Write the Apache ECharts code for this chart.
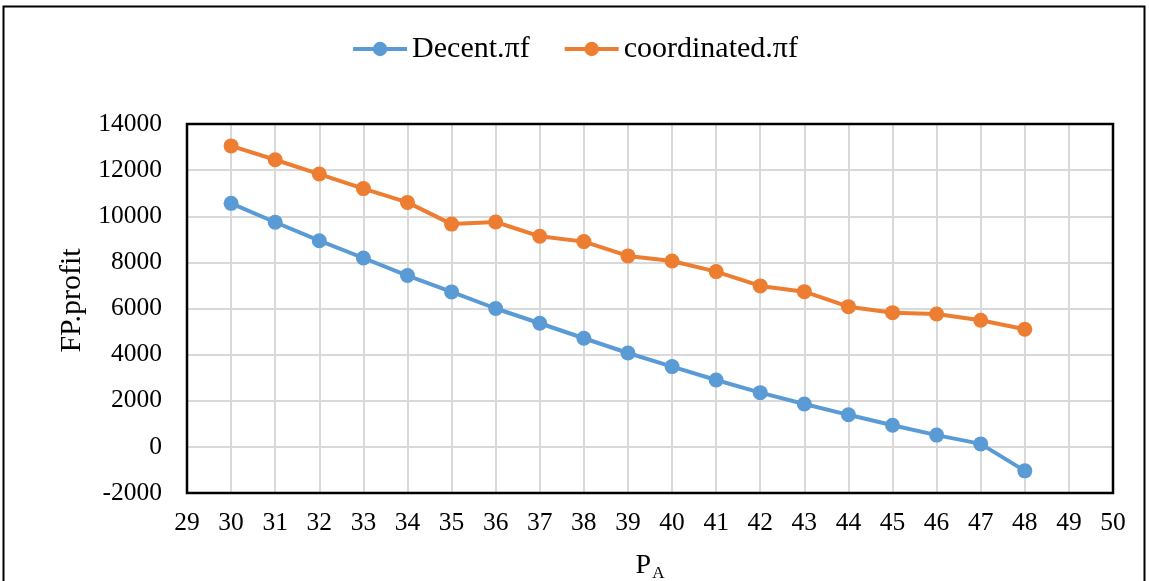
<!DOCTYPE html>
<html><head><meta charset="utf-8">
<script src="https://cdn.jsdelivr.net/npm/echarts@6/dist/echarts.min.js"></script>
<style>html,body{margin:0;padding:0;background:#fff}#c{width:1149px;height:581px}</style>
</head><body><div id="c"></div>
<script>
const xValues = [30,31,32,33,34,35,36,37,38,39,40,41,42,43,44,45,46,47,48];
const decent = [10560,9740,8940,8190,7430,6720,6000,5360,4710,4070,3480,2900,2350,1860,1390,940,510,130,-1040];
const coordinated = [13050,12450,11830,11200,10600,9660,9750,9130,8900,8280,8060,7600,6980,6730,6080,5820,5760,5490,5100];
const seriesNames = ['Decent.πf','coordinated.πf'];
const colors = ['#5B9BD5','#ED7D31'];
const font = 'Liberation Serif';

const G = {left:187, right:36, top:124, bottom:88};
const W = 1149, H = 581;

const chart = echarts.init(document.getElementById('c'));
function pairs(ys){ return xValues.map((x,i)=>[x, ys[i]]); }
chart.setOption({
  backgroundColor:'#fff',
  animation:false,
  graphic:[
    {type:'rect', shape:{x:3.5,y:6.5,width:1141,height:620}, style:{fill:'none',stroke:'#000',lineWidth:2}, silent:true, z:100},
    {type:'rect', shape:{x:G.left,y:G.top,width:W-G.left-G.right,height:H-G.top-G.bottom}, style:{fill:'none',stroke:'#000',lineWidth:2.5}, silent:true, z:1}
  ],
  legend:{top:29, left:'center', itemWidth:54, itemHeight:18, itemGap:33,
    lineStyle:{width:4},
    textStyle:{fontFamily:font, fontSize:30, color:'#000'}, data:seriesNames},
  grid:{left:G.left, right:G.right, top:G.top, bottom:G.bottom, outerBoundsMode:'none', containLabel:false},
  xAxis:{type:'value', min:29, max:50, interval:1,
    axisLine:{show:false}, axisTick:{show:false},
    splitLine:{show:true, lineStyle:{color:'#d9d9d9', width:2}},
    axisLabel:{fontFamily:font, fontSize:25.5, color:'#000', margin:17},
    name:'{p|P}{s|A}', nameLocation:'middle', nameGap:56,
    nameTextStyle:{rich:{p:{fontFamily:font, fontSize:28, color:'#000'}, s:{fontFamily:font, fontSize:17, color:'#000', padding:[16,0,0,1]}}}},
  yAxis:{type:'value', min:-2000, max:14000, interval:2000,
    axisLine:{show:false}, axisTick:{show:false},
    splitLine:{show:true, lineStyle:{color:'#d9d9d9', width:2}},
    axisLabel:{fontFamily:font, fontSize:25.5, color:'#000', margin:25, formatter:v=>String(v)},
    name:'FP.profit', nameLocation:'middle', nameGap:100,
    nameTextStyle:{fontFamily:font, fontSize:30, color:'#000', padding:[0,0,0,16]}},
  series:[
    {name:seriesNames[0], type:'line', data:pairs(decent), color:colors[0], symbol:'circle', symbolSize:15,
      lineStyle:{width:4}, itemStyle:{color:colors[0]}},
    {name:seriesNames[1], type:'line', data:pairs(coordinated), color:colors[1], symbol:'circle', symbolSize:15,
      lineStyle:{width:4}, itemStyle:{color:colors[1]}}
  ]
});
</script></body></html>
